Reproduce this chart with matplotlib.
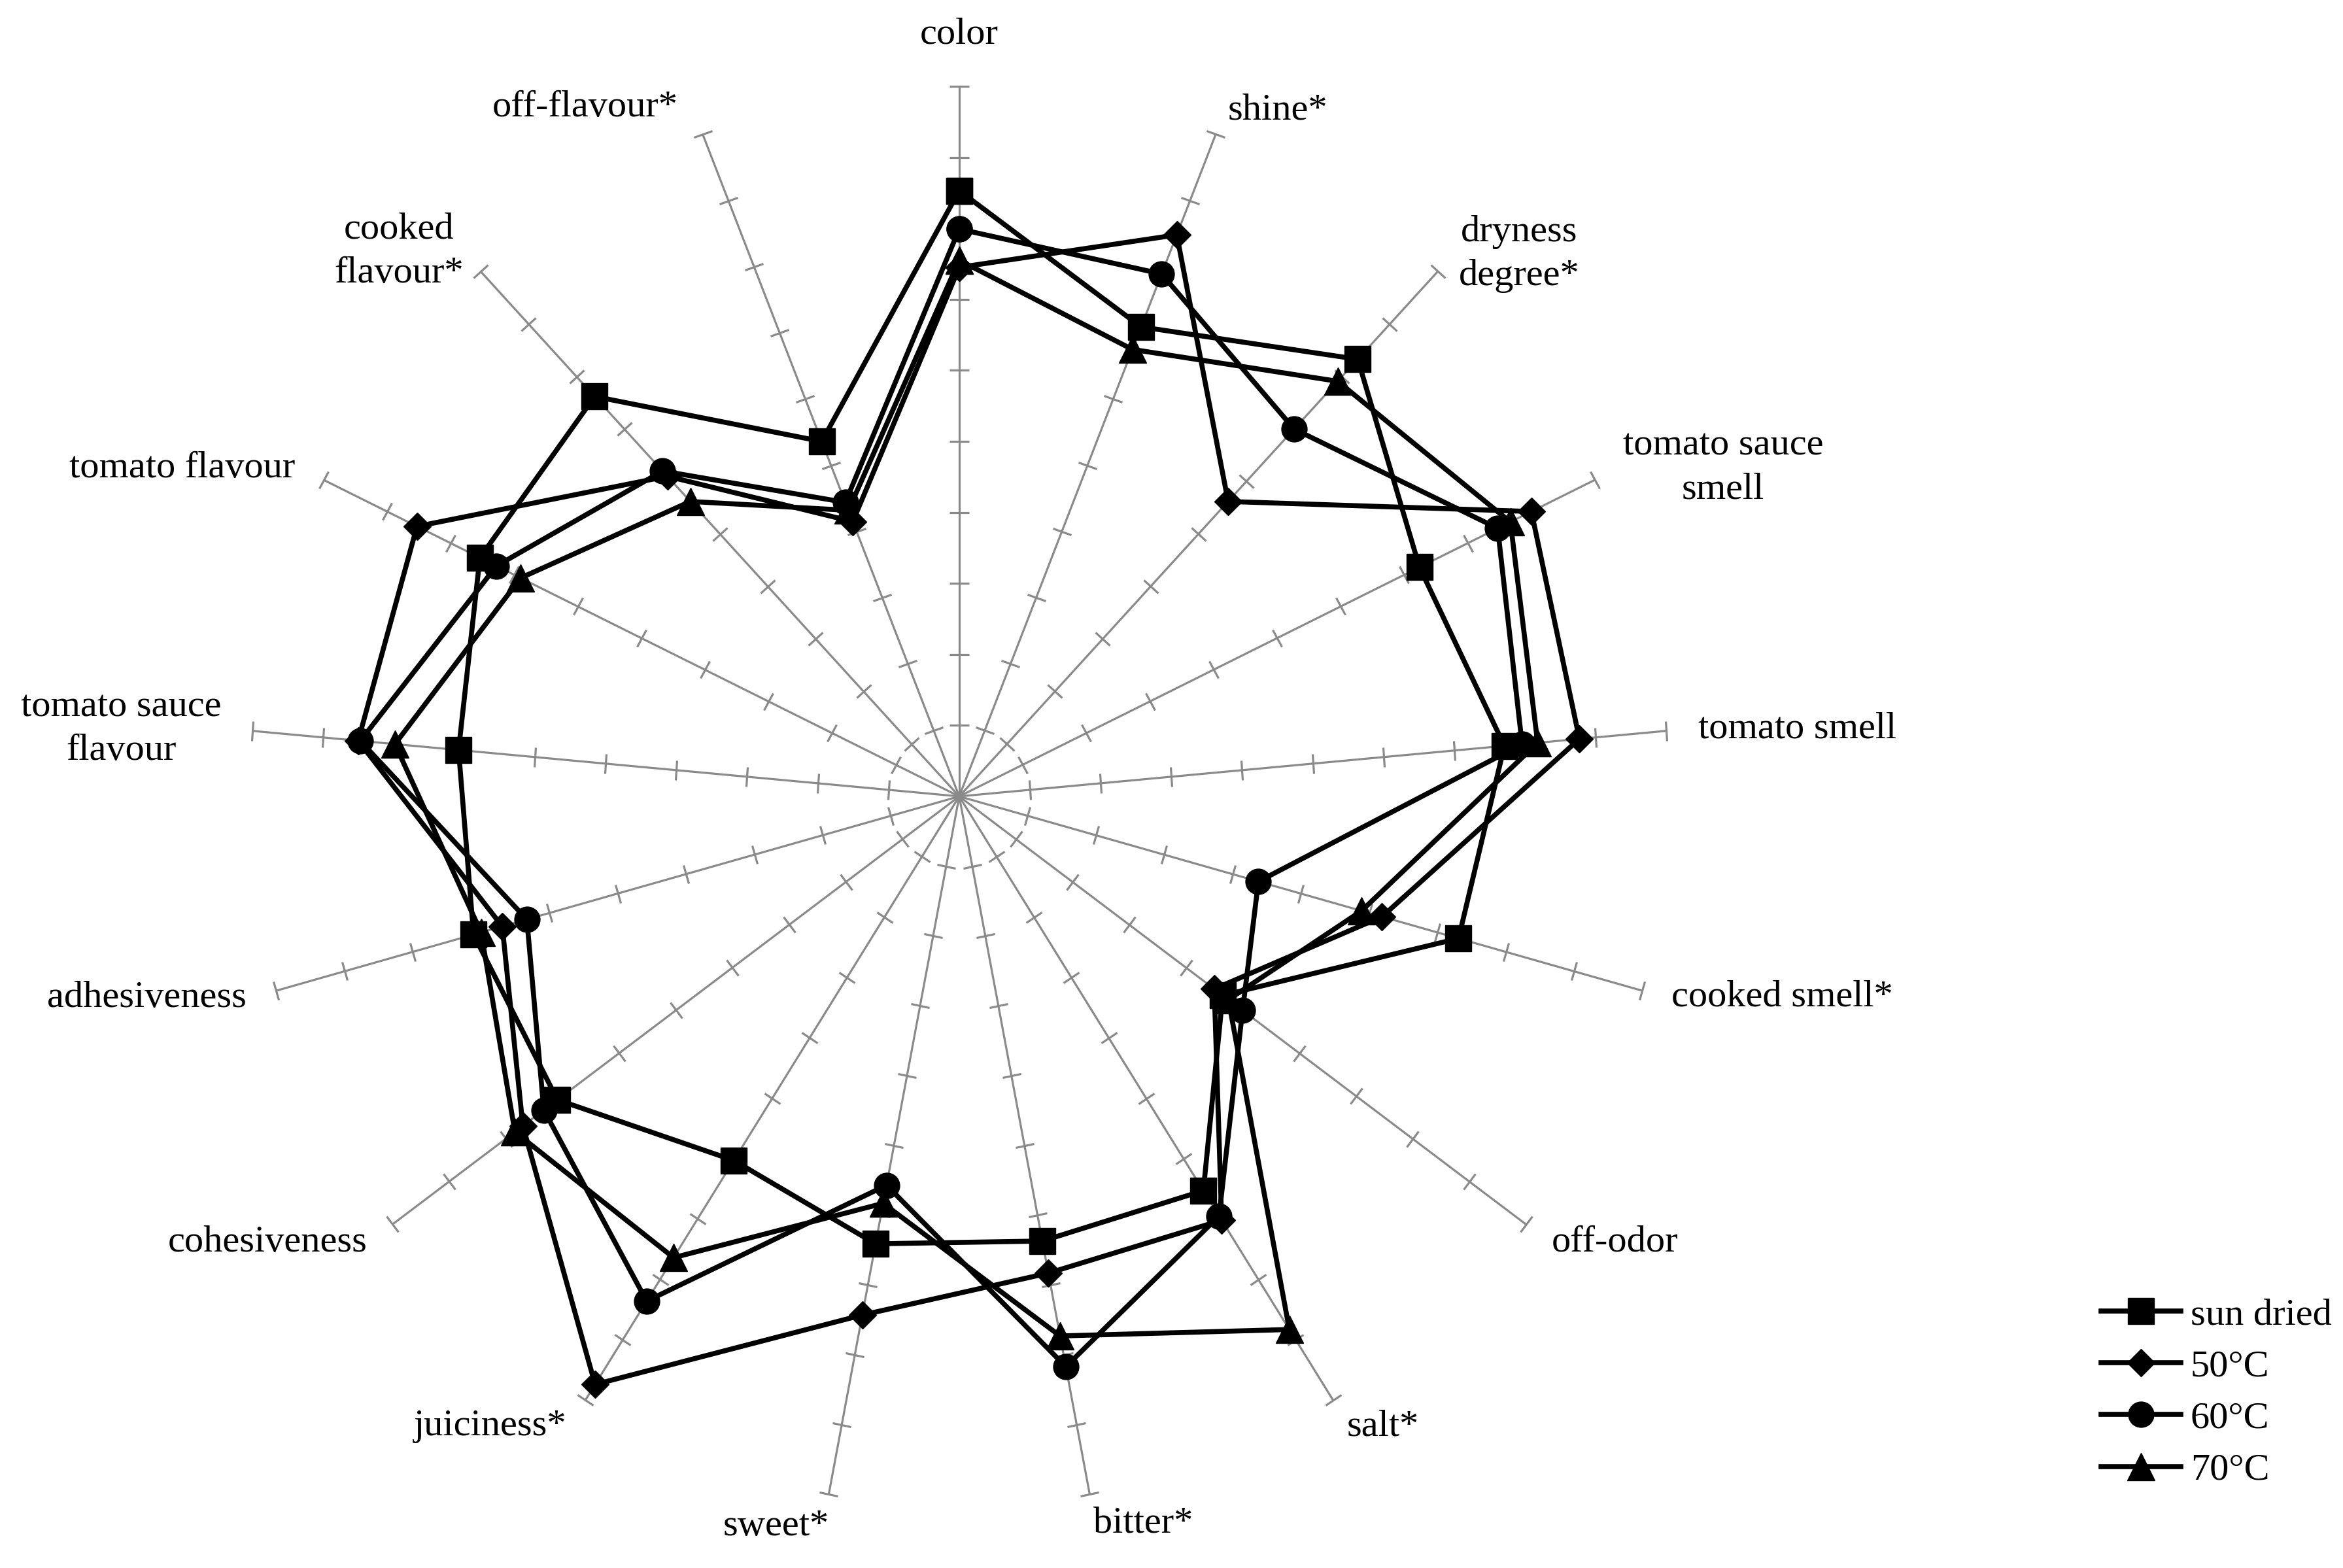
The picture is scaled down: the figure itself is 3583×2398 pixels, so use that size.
import numpy as np
import matplotlib
matplotlib.use("Agg")
import matplotlib.pyplot as plt
from matplotlib.markers import MarkerStyle
from matplotlib.transforms import Affine2D

# ---------------- data ----------------
categories = ["color", "shine*", "dryness\ndegree*", "tomato sauce\nsmell",
              "tomato smell", "cooked smell*", "off-odor", "salt*", "bitter*",
              "sweet*", "juiciness*", "cohesiveness", "adhesiveness",
              "tomato sauce\nflavour", "tomato flavour", "cooked\nflavour*",
              "off-flavour*"]
series_names = ["sun dried", "50°C", "60°C", "70°C"]
sun_dried = [8.53, 7.09, 8.33, 7.24, 7.71, 7.31, 4.65, 6.53, 6.37, 6.41,
             6.03, 7.09, 7.11, 7.08, 7.54, 7.62, 5.36]
c50 = [7.45, 8.48, 5.62, 9.00, 8.77, 6.19, 4.50, 7.02, 6.83, 7.43,
       9.74, 7.70, 6.69, 8.50, 8.53, 6.10, 4.15]
c60 = [7.99, 7.89, 7.00, 8.47, 7.96, 4.38, 5.00, 6.95, 8.17, 5.57,
       8.36, 7.33, 6.33, 8.47, 7.28, 6.20, 4.44]
c70 = [7.55, 6.75, 7.91, 8.67, 8.18, 5.89, 4.75, 8.83, 7.73, 5.83,
       7.64, 7.84, 7.00, 7.98, 6.90, 5.62, 4.32]
axis_max = 10
tick_values = list(range(1, 11))

# ---------------- layout / style ----------------
label_angles = [0, 24.9, 45.9, 66.7, 85.4, 103.7, 124.2, 146.1, 165.8,
                194.1, 216.7, 237.2, 256.1, 274.6, 292.9, 314.2, 331.5]
label_radii = [10.73, 10.65, 10.98, 11.71, 11.84, 11.93, 11.16, 10.69, 10.56,
               10.60, 11.06, 11.59, 11.79, 11.84, 11.88, 11.01, 11.04]
marker_styles = [("s", 29), ("D", 21.5), ("o", 28), ("^", 30)]
FS = 42
GREY = "#8a8a8a"

plt.rcParams["font.family"] = ["Liberation Serif", "DejaVu Serif"]

fig = plt.figure(figsize=(35.83, 23.98), dpi=100)
ax = fig.add_axes([0.1063, 0.0392, 0.6062, 0.9058], projection="polar")
ax.set_theta_zero_location("N")
ax.set_theta_direction(-1)
ax.set_ylim(0, axis_max)
ax.grid(False)
ax.set_xticks([])
ax.set_yticks([])
ax.spines["polar"].set_visible(False)
ax.patch.set_visible(False)

n = len(categories)
theta = np.arange(n) * 2 * np.pi / n

# spokes with cross tick marks
for t in theta:
    ax.plot([t, t], [0, axis_max], color=GREY, lw=2.3, zorder=1,
            solid_capstyle="butt")
    m = MarkerStyle("_", transform=Affine2D().rotate_deg(-np.degrees(t)))
    ax.plot([t] * len(tick_values), tick_values, ls="none", marker=m,
            ms=21, mew=2.3, color=GREY, zorder=1, clip_on=False)

# data series
for vals, name, (mk, ms) in zip([sun_dried, c50, c60, c70], series_names,
                                marker_styles):
    v = np.r_[vals, vals[0]]
    t = np.r_[theta, theta[0]]
    ax.plot(t, v, color="black", lw=5.5, marker=mk, ms=ms, mfc="black",
            mec="black", label=name, zorder=3, clip_on=False)

# category labels
for lab, ang, r in zip(categories, label_angles, label_radii):
    ax.text(np.deg2rad(ang), r, lab, ha="center", va="center",
            fontsize=FS, multialignment="center", linespacing=1.37,
            color="black")

handles, labels = ax.get_legend_handles_labels()
fig.legend(handles, labels, loc="center left", bbox_to_anchor=(0.8967, 0.1118),
           frameon=False, fontsize=FS, handlelength=2.09, handletextpad=0.26,
           labelspacing=0.45, borderpad=0, borderaxespad=0, numpoints=1)

fig.savefig("out.png", dpi=100, facecolor="white")
